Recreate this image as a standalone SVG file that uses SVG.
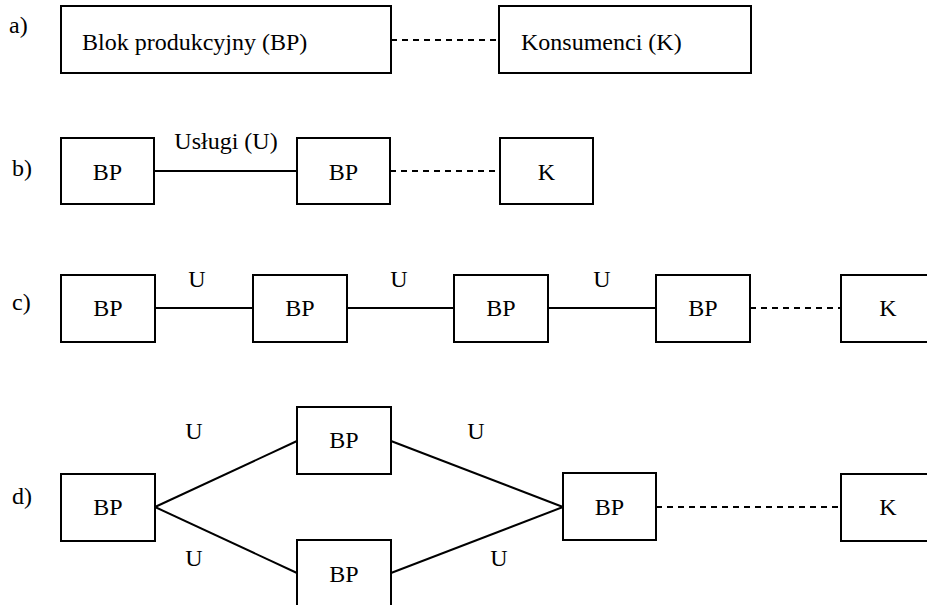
<svg xmlns="http://www.w3.org/2000/svg" width="927" height="605" viewBox="0 0 927 605" font-family="'Liberation Serif', 'Times New Roman', Times, 'DejaVu Serif', serif">
<style>
.box{fill:#fff;stroke:#000;stroke-width:2}
.t{font-family:'Liberation Serif','Times New Roman',Times,'DejaVu Serif',serif;font-size:24px;fill:#000}
.c{text-anchor:middle}
.ln{stroke:#000;stroke-width:2;fill:none}
.dash{stroke:#000;stroke-width:2;fill:none;stroke-dasharray:6 5}
</style>
<rect width="927" height="605" fill="#fff"/>
<g id="labels">
<text class="t" x="9" y="33">a)</text>
<text class="t" x="12" y="176">b)</text>
<text class="t" x="12" y="310">c)</text>
<text class="t" x="12" y="504">d)</text>
</g>
<g id="connectors">
<line class="dash" x1="391" y1="40" x2="499" y2="40"/>
<line class="ln" x1="154" y1="171" x2="297" y2="171"/>
<line class="dash" x1="390" y1="171" x2="500" y2="171"/>
<line class="ln" x1="155" y1="308" x2="253" y2="308"/>
<line class="ln" x1="347" y1="308" x2="454" y2="308"/>
<line class="ln" x1="548" y1="308" x2="656" y2="308"/>
<line class="dash" x1="750" y1="308" x2="841" y2="308"/>
<line class="ln" x1="155" y1="507" x2="297" y2="441"/>
<line class="ln" x1="155" y1="507" x2="297" y2="573"/>
<line class="ln" x1="391" y1="441" x2="563" y2="507"/>
<line class="ln" x1="391" y1="573" x2="563" y2="507"/>
<line class="dash" x1="656" y1="507" x2="841" y2="507"/>
</g>
<g id="edge-labels">
<text class="t c" x="226" y="149">Usługi (U)</text>
<text class="t c" x="197" y="287">U</text>
<text class="t c" x="399" y="287">U</text>
<text class="t c" x="602" y="287">U</text>
<text class="t c" x="194" y="439">U</text>
<text class="t c" x="194" y="566">U</text>
<text class="t c" x="476" y="439">U</text>
<text class="t c" x="499" y="566">U</text>
</g>
<g id="a-bp"><rect class="box" x="61" y="6" width="330" height="67"/><text class="t" x="82" y="50">Blok produkcyjny (BP)</text></g>
<g id="a-k"><rect class="box" x="499" y="6" width="252" height="67"/><text class="t" x="521" y="50">Konsumenci (K)</text></g>
<g id="b-bp1"><rect class="box" x="61" y="138" width="93" height="66"/><text class="t c" x="107.5" y="180">BP</text></g>
<g id="b-bp2"><rect class="box" x="297" y="138" width="93" height="66"/><text class="t c" x="343.5" y="180">BP</text></g>
<g id="b-k"><rect class="box" x="500" y="138" width="93" height="66"/><text class="t c" x="546.5" y="180">K</text></g>
<g id="c-bp1"><rect class="box" x="61" y="275" width="94" height="67"/><text class="t c" x="108" y="316">BP</text></g>
<g id="c-bp2"><rect class="box" x="253" y="275" width="94" height="67"/><text class="t c" x="300" y="316">BP</text></g>
<g id="c-bp3"><rect class="box" x="454" y="275" width="94" height="67"/><text class="t c" x="501" y="316">BP</text></g>
<g id="c-bp4"><rect class="box" x="656" y="275" width="94" height="67"/><text class="t c" x="703" y="316">BP</text></g>
<g id="c-k"><rect class="box" x="841" y="275" width="94" height="67"/><text class="t c" x="888" y="316">K</text></g>
<g id="d-bp1"><rect class="box" x="61" y="474" width="94" height="67"/><text class="t c" x="108" y="515">BP</text></g>
<g id="d-bp-top"><rect class="box" x="297" y="407" width="94" height="67"/><text class="t c" x="344" y="448">BP</text></g>
<g id="d-bp-bottom"><rect class="box" x="297" y="540" width="94" height="67"/><text class="t c" x="344" y="582">BP</text></g>
<g id="d-bp-right"><rect class="box" x="563" y="473" width="93" height="67"/><text class="t c" x="609.5" y="515">BP</text></g>
<g id="d-k"><rect class="box" x="841" y="474" width="94" height="67"/><text class="t c" x="888" y="515">K</text></g>
</svg>
